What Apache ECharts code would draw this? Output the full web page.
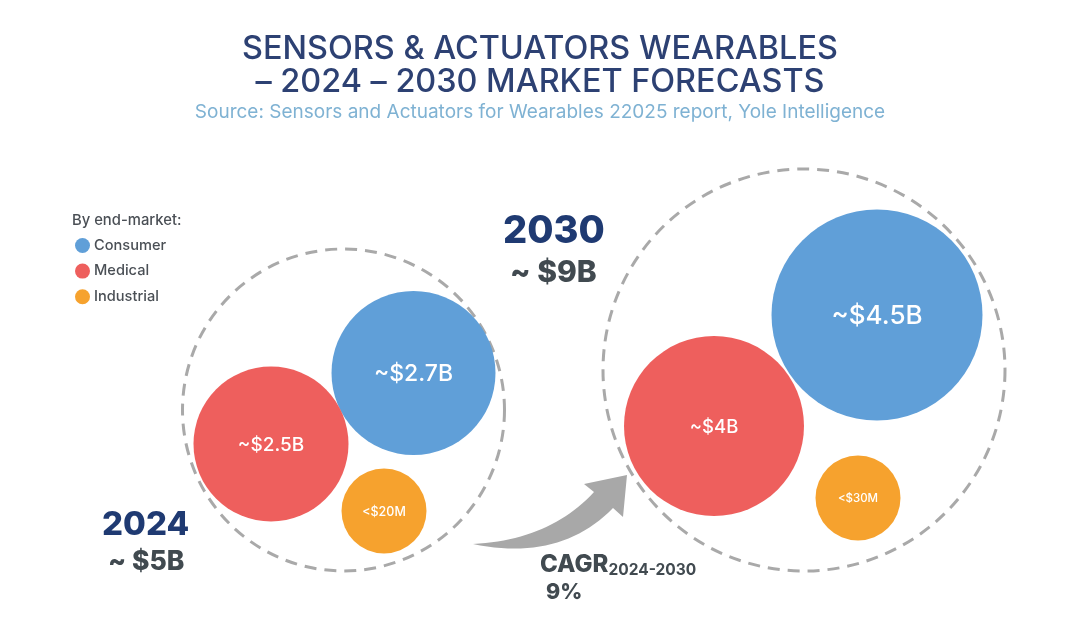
<!DOCTYPE html>
<html><head><meta charset="utf-8">
<style>html,body{margin:0;padding:0;background:#fff}#c{width:1080px;height:628px}</style>
<script src="https://cdn.jsdelivr.net/npm/echarts@6/dist/echarts.min.js"></script>
</head><body><div id="c"></div>
<script>
const FONT = 'Inter';
const years = ['2024', '2030'];
const consumerValues = ['~$2.7B', '~$4.5B'];
const medicalValues = ['~$2.5B', '~$4B'];
const industrialValues = ['<$20M', '<$30M'];
const consumerBubbles = [[413.5, 373, 164], [877, 315, 211]];
const medicalBubbles = [[271, 444, 155], [714, 426, 180]];
const industrialBubbles = [[384, 511, 85], [858, 498, 85]];
const totalRings = [[343.5, 410, 322], [804, 370, 402]];
const arrowUpperCurve = [[473,544],[550,540],[594,492]];
const arrowHead = [[584,484],[627,475],[623,517]];
const arrowLowerCurve = [[613,508],[560,562],[473,544]];

function quad(c) {
  const out = [];
  for (let i = 0; i <= 24; i++) {
    const t = i / 24, u = 1 - t;
    out.push([u*u*c[0][0] + 2*u*t*c[1][0] + t*t*c[2][0], u*u*c[0][1] + 2*u*t*c[1][1] + t*t*c[2][1]]);
  }
  return out;
}
const arrowOutline = quad(arrowUpperCurve).concat(arrowHead, quad(arrowLowerCurve));

function bubbleSeries(name, color, pts, labels, fontSizes) {
  return {
    name, type: 'scatter', z: 3,
    itemStyle: { color, opacity: 1 },
    symbolSize: v => v[2],
    data: pts.map((p, i) => ({
      value: p,
      label: { show: true, position: 'inside', formatter: labels[i], color: '#fff', fontFamily: FONT, fontWeight: 500, fontSize: fontSizes[i], offset: [0, 1] }
    }))
  };
}
function txt(text, left, top, size, weight, color, extra) {
  return { text, left, top, padding: 0, textStyle: Object.assign({ fontFamily: FONT, fontSize: size, fontWeight: weight, color }, extra || {}) };
}
const chart = echarts.init(document.getElementById('c'), null, { renderer: 'canvas' });
chart.setOption({
  animation: false,
  backgroundColor: '#fff',
  grid: { left: 0, right: 0, top: 0, bottom: 0 },
  xAxis: { type: 'value', min: 0, max: 1080, show: false },
  yAxis: { type: 'value', min: 0, max: 628, inverse: true, show: false },
  title: [
    txt('SENSORS & ACTUATORS WEARABLES\n– 2024 – 2030 MARKET FORECASTS', 'center', 33, 32.4, 500, '#2D4173', { lineHeight: 33, align: 'center' }),
    txt('Source: Sensors and Actuators for Wearables 22025 report, Yole Intelligence', 'center', 103, 19, 400, '#7FB2D3'),
    txt('By end-market:', 72, 213, 14.8, 500, '#4A4F55'),
    txt('2030', 503, 213, 38, 800, '#1F3A72'),
    txt('~ $9B', 510, 258, 30, 800, '#414A50'),
    txt('2024', 102, 509, 33, 800, '#1F3A72'),
    txt('~ $5B', 108, 549, 26.5, 800, '#414A50'),
    { text: 'CAGR{s|2024-2030}', left: 540, top: 552, padding: 0,
      textStyle: { fontFamily: FONT, fontSize: 24, fontWeight: 800, color: '#414A50',
        rich: { s: { fontFamily: FONT, fontSize: 15.5, fontWeight: 700, color: '#414A50', padding: [10, 0, 0, 0] } } } },
    txt('9%', 546, 582, 21.5, 800, '#414A50')
  ],
  legend: {
    data: ['Consumer', 'Medical', 'Industrial'],
    orient: 'vertical', left: 75, top: 238, itemGap: 10.6, itemWidth: 15, itemHeight: 15, padding: 0,
    icon: 'circle', selectedMode: false,
    textStyle: { fontFamily: FONT, fontSize: 14.6, fontWeight: 500, color: '#4A4F55', padding: [0, 0, 0, -1] }
  },
  series: [
    { name: 'ring', type: 'scatter', z: 2, data: totalRings, symbolSize: v => v[2],
      itemStyle: { color: 'transparent', borderColor: '#A9A9A9', borderWidth: 3, borderType: [12, 8], opacity: 1 } },
    bubbleSeries('Consumer', '#609FD8', consumerBubbles, consumerValues, [23, 26]),
    bubbleSeries('Medical', '#EE5F5D', medicalBubbles, medicalValues, [19, 18.5]),
    bubbleSeries('Industrial', '#F6A22E', industrialBubbles, industrialValues, [12.5, 11.5]),
    { name: 'arrow', type: 'custom', z: 1, coordinateSystem: 'cartesian2d', data: [[0, 0]],
      renderItem: (p, api) => ({
        type: 'polygon',
        shape: { points: arrowOutline.map(pt => api.coord(pt)) },
        style: { fill: '#A8A8A8' }
      }) }
  ]
});
</script></body></html>
